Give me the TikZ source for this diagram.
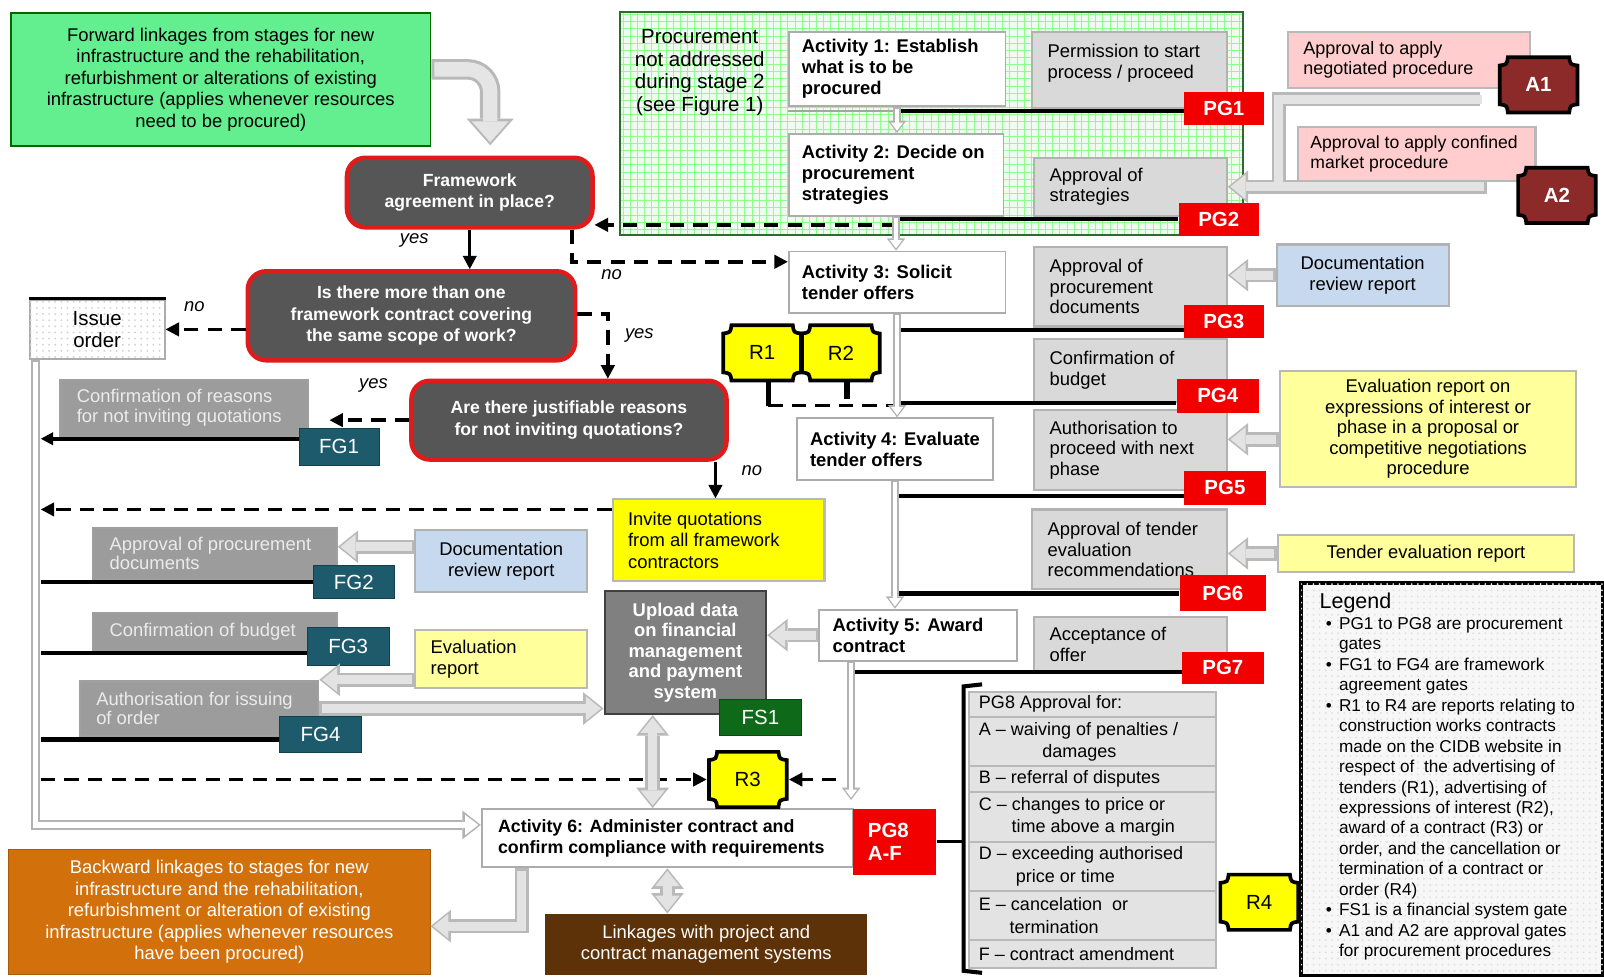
\documentclass[tikz,border=0pt]{standalone}
\usepackage{fontspec}
\setmainfont{Liberation Sans}
\usetikzlibrary{arrows.meta,patterns,calc}
\definecolor{fwgreen}{HTML}{63EF8F}
\definecolor{decgray}{HTML}{565656}
\definecolor{decred}{HTML}{E01B1B}
\definecolor{pgred}{HTML}{F20000}
\definecolor{fgteal}{HTML}{1D5B6C}
\definecolor{fsgreen}{HTML}{0E6A18}
\definecolor{ared}{HTML}{8C2A2A}
\definecolor{pinkbox}{HTML}{FFCDCD}
\definecolor{bluebox}{HTML}{C7D9EE}
\definecolor{lyellow}{HTML}{FFFF9C}
\definecolor{ybox}{HTML}{FFFF00}
\definecolor{orangebox}{HTML}{D2700B}
\definecolor{brownbox}{HTML}{5D3208}
\definecolor{gatebox}{HTML}{D9D9D9}
\definecolor{lgray}{HTML}{9C9C9C}
\definecolor{upgray}{HTML}{808080}
\definecolor{gridfill}{HTML}{EFFBEF}
\newcommand\bxh{7}
\newcommand\bxv{3}
\newcommand\mybox[8]{%
  \pgfmathsetmacro\bxw{(#5-#3)*0.5}%
  \pgfmathsetmacro\bxt{(#6-#4)*0.5}%
  \pgfmathsetmacro\bxiw{\bxw-2*\bxh}%
  \pgfmathsetmacro\bxit{\bxt-2*\bxv}%
  \node[inner sep=0pt, anchor=north west, minimum width=\bxw pt, minimum height=\bxt pt, #1] (#2) at (#3,#4)
    {\parbox[c][\bxit pt][#7]{\bxiw pt}{\raggedright #8}};}
\newcommand\lgi[1]{\par\hangindent=9.5pt\hangafter=1\noindent\hspace*{3pt}\makebox[6.5pt][l]{\textbullet}#1\par}
\newcommand\fatp[3]{\draw[#1] #3; \draw[#2] #3;}
% octagonal report/approval gate: name, x, y, fill, text style, text
\newcommand\octo[6]{%
  \draw[line width=1.8pt, fill=#4, shift={(#2,#3)}] (-30,-27) -- (30,-27) .. controls (31,-20) .. (38,-19) -- (38,19) .. controls (31,20) .. (30,27) -- (-30,27) .. controls (-31,20) .. (-38,19) -- (-38,-19) .. controls (-31,-20) .. (-30,-27) -- cycle;
  \node[inner sep=0pt, minimum width=38pt, minimum height=27pt, font=\fontsize{10}{12}\selectfont, #5] (#1) at (#2,#3) {#6};}
\begin{document}
\begin{tikzpicture}[x=0.5pt,y=-0.5pt,
  txt/.style={font=\fontsize{9}{10.5}\selectfont},
  act/.style={draw=gray!65, fill=white, line width=0.9pt, font=\fontsize{9}{10.2}\selectfont\bfseries},
  gate/.style={draw=gray!60, fill=gatebox, line width=1.1pt, font=\fontsize{9}{10.2}\selectfont},
  lgate/.style={draw=gray!75, fill=lgray, line width=1.1pt, text=white!92!black, font=\fontsize{9}{9.6}\selectfont},
  dec/.style={draw=decred, line width=2.2pt, fill=decgray, rounded corners=9pt, text=white, font=\fontsize{8.6}{10.5}\selectfont\bfseries},
  pg/.style={fill=pgred, text=white, font=\fontsize{10}{11}\selectfont\bfseries},
  fg/.style={fill=fgteal, draw=fgteal!70!black, text=white, font=\fontsize{10}{11}\selectfont},
  row/.style={draw=gray!55, fill=gray!22, line width=1pt, font=\fontsize{8.8}{11}\selectfont},
  lbl/.style={font=\fontsize{9}{10}\selectfont\itshape},
  fo/.style={line width=7pt, draw=gray!55, -{Triangle[length=10pt,width=16pt,line width=0pt]}},
  fi/.style={line width=4.4pt, draw=gray!22, -{Triangle[length=7.4pt,width=12pt,line width=0pt]}, shorten >=1.3pt, shorten <=1.3pt},
  fod/.style={line width=7pt, draw=gray!55, {Triangle[length=10pt,width=16pt,line width=0pt]}-{Triangle[length=10pt,width=16pt,line width=0pt]}},
  fid/.style={line width=4.4pt, draw=gray!22, {Triangle[length=7.4pt,width=12pt,line width=0pt]}-{Triangle[length=7.4pt,width=12pt,line width=0pt]}, shorten >=1.3pt, shorten <=1.3pt},
  fos/.style={line width=7pt, draw=gray!55},
  fis/.style={line width=4.4pt, draw=gray!22},
  ho/.style={line width=3.6pt, draw=gray!60, -{Triangle[length=6pt,width=9pt,line width=0pt]}},
  hi/.style={line width=2pt, draw=white, -{Triangle[length=4pt,width=6pt,line width=0pt]}, shorten >=1.1pt, shorten <=0.8pt},
  lo/.style={line width=4.5pt, draw=gray!60, -{Triangle[length=9pt,width=14pt,line width=0pt]}},
  li/.style={line width=2.6pt, draw=white, -{Triangle[length=6.5pt,width=10pt,line width=0pt]}, shorten >=1.2pt, shorten <=0.9pt},
  bo/.style={line width=10pt, draw=gray!55, rounded corners=11pt, -{Triangle[length=13pt,width=23pt,line width=0pt]}},
  bi/.style={line width=7pt, draw=gray!20, rounded corners=11pt, -{Triangle[length=10.2pt,width=18pt,line width=0pt]}, shorten >=1.5pt, shorten <=1.5pt},
  dl/.style={line width=1.8pt, dash pattern=on 7pt off 4.5pt, -{Triangle[length=6.5pt,width=7pt,line width=0pt]}},
  sl/.style={line width=1.6pt, -{Triangle[length=6.5pt,width=7pt,line width=0pt]}},
  gline/.style={line width=2pt}
]
\useasboundingbox (0,0) rectangle (1568,955);
\fill[white] (0,0) rectangle (1568,955);

% grid region
\fill[gridfill] (606,12) rectangle (1215,230);
\draw[green!45, line width=0.3pt, step=3.5pt] (606,12) grid (1215,230);
\draw[gray!60!green!60!black, line width=0.8pt] (606,12) rectangle (1215,230);
\node[font=\fontsize{10}{11}\selectfont, align=center] (proc) at (684,71) {Procurement\\not addressed\\during stage 2\\(see Figure 1)};

% top-left green
\renewcommand\bxh{5}
\mybox{draw=green!40!black, fill=fwgreen, line width=0.8pt, txt}{green}{10}{12}{420}{142}{c}{\centering Forward linkages from stages for new\\infrastructure and the rehabilitation,\\refurbishment or alterations of existing\\infrastructure (applies whenever resources\\need to be procured)}

% activities
\renewcommand\bxh{6.5}
\mybox{act}{ac1}{770}{30}{982}{103}{c}{Activity 1: Establish\\what is to be\\procured}
\mybox{act}{ac2}{770}{130}{980}{210}{c}{Activity 2: Decide on\\procurement\\strategies}
\mybox{act}{ac3}{770}{245}{982}{305}{c}{Activity 3: Solicit\\tender offers}
\mybox{act}{ac4}{778}{408}{970}{468}{c}{Activity 4: Evaluate\\tender offers}
\mybox{act}{ac5}{800}{595}{993}{645}{c}{Activity 5: Award\\contract}
\renewcommand\bxh{8}
\mybox{act,font=\fontsize{8.7}{10}\selectfont\bfseries}{ac6}{470}{790}{833}{847}{c}{Activity 6: Administer contract and\\confirm compliance with requirements}

% right gates text boxes
\renewcommand\bxh{7.5}
\renewcommand\bxv{6}
\mybox{gate}{g1}{1008}{30}{1198}{105}{t}{Permission to start\\process / proceed}
\renewcommand\bxv{3}
\mybox{gate}{g2}{1010}{153}{1198}{210}{c}{Approval of\\strategies}
\mybox{gate}{g3}{1010}{240}{1198}{318}{c}{Approval of\\procurement\\documents}
\mybox{gate}{g4}{1010}{330}{1198}{392}{c}{Confirmation of\\budget}
\mybox{gate}{g5}{1010}{400}{1198}{478}{c}{Authorisation to\\proceed with next\\phase}
\mybox{gate}{g6}{1008}{497}{1198}{575}{c}{Approval of tender\\evaluation\\recommendations}
\mybox{gate}{g7}{1010}{602}{1198}{655}{c}{Acceptance of\\offer}

% pink approvals
\mybox{draw=gray!55, fill=pinkbox, line width=1pt, font=\fontsize{8.8}{10}\selectfont}{pink1}{1258}{30}{1495}{85}{c}{Approval to apply\\negotiated procedure}
\renewcommand\bxh{6}
\mybox{draw=gray!55, fill=pinkbox, line width=1pt, font=\fontsize{8.6}{10}\selectfont}{pink2}{1268}{123}{1500}{176}{c}{Approval to apply confined\\market procedure}
\renewcommand\bxh{7.5}

% report boxes
\mybox{draw=gray!60, fill=bluebox, line width=1pt, txt}{docR}{1247}{238}{1415}{298}{c}{\centering Documentation\\review report}
\mybox{draw=gray!60, fill=bluebox, line width=1pt, txt}{docL}{405}{517}{573}{578}{c}{\centering Documentation\\review report}
\mybox{draw=gray!55, fill=lyellow, line width=1pt, font=\fontsize{9}{10}\selectfont}{evalR}{1250}{362}{1540}{475}{c}{\centering Evaluation report on\\expressions of interest or\\phase in a proposal or\\competitive negotiations\\procedure}
\mybox{draw=gray!55, fill=lyellow, line width=1pt, txt}{tevalR}{1248}{522}{1538}{558}{c}{\centering Tender evaluation report}
\mybox{draw=gray!55, fill=lyellow, line width=1pt, txt}{evalL}{405}{615}{573}{672}{c}{Evaluation\\report}
\mybox{draw=gray!55, fill=ybox, line width=1pt, txt}{inv}{598}{487}{805}{567}{c}{Invite quotations\\from all framework\\contractors}

% left framework gate boxes
\renewcommand\bxh{8}
\mybox{lgate}{conf}{58}{370}{300}{425}{c}{Confirmation of reasons\\for not inviting quotations}
\mybox{lgate}{apL}{90}{515}{328}{565}{c}{Approval of procurement\\documents}
\mybox{lgate}{cbL}{90}{598}{328}{635}{c}{Confirmation of budget}
\mybox{lgate}{auL}{77}{665}{310}{718}{c}{Authorisation for issuing\\of order}

% decisions
\renewcommand\bxh{4}
\mybox{dec}{fw}{337}{152}{577}{220}{c}{\centering Framework\\agreement in place?}
\mybox{dec}{d2}{240}{263}{560}{350}{c}{\centering Is there more than one\\framework contract covering\\the same scope of work?}
\mybox{dec}{d3}{400}{370}{708}{447}{c}{\centering Are there justifiable reasons\\for not inviting quotations?}
\mybox{draw=gray!65, fill=white, postaction={pattern=dots, pattern color=gray!35}, line width=1pt, font=\fontsize{10}{10.5}\selectfont}{issue}{28}{292}{160}{350}{c}{\centering Issue\\order}
\draw[line width=1.2pt] (issue.north west) -- (issue.north east);

% upload, backward, linkages
\mybox{draw=gray!50!black, fill=upgray, text=white, line width=1pt, font=\fontsize{9}{10}\selectfont\bfseries}{up}{590}{577}{748}{697}{c}{\centering Upload data\\on financial\\management\\and payment\\system}
\mybox{draw=orangebox!80!black, fill=orangebox, text=white, txt}{back}{8}{830}{420}{952}{c}{\centering Backward linkages to stages for new\\infrastructure and the rehabilitation,\\refurbishment or alteration of existing\\infrastructure (applies whenever resources\\have been procured)}
\mybox{draw=brownbox, fill=brownbox, text=white, txt}{link}{533}{893}{847}{952}{c}{\centering Linkages with project and\\contract management systems}

% gates
\renewcommand\bxh{1}
\renewcommand\bxv{1}
\mybox{pg}{pg1}{1157}{90}{1235}{122}{c}{\centering PG1}
\mybox{pg}{pg2}{1152}{198}{1230}{230}{c}{\centering PG2}
\mybox{pg}{pg3}{1157}{298}{1235}{330}{c}{\centering PG3}
\mybox{pg}{pg4}{1150}{370}{1230}{403}{c}{\centering PG4}
\mybox{pg}{pg5}{1157}{460}{1237}{493}{c}{\centering PG5}
\mybox{pg}{pg6}{1153}{562}{1237}{597}{c}{\centering PG6}
\mybox{pg}{pg7}{1155}{637}{1235}{668}{c}{\centering PG7}
\mybox{fg}{fg1}{292}{418}{370}{455}{c}{\centering FG1}
\mybox{fg}{fg2}{306}{552}{385}{585}{c}{\centering FG2}
\mybox{fg}{fg3}{300}{613}{380}{650}{c}{\centering FG3}
\mybox{fg}{fg4}{273}{700}{353}{735}{c}{\centering FG4}
\mybox{fill=fsgreen, draw=fsgreen!70!black, text=white, font=\fontsize{10}{11}\selectfont}{fs1}{703}{683}{783}{718}{c}{\centering FS1}
\renewcommand\bxh{7.5}
\mybox{pg}{pg8}{833}{790}{915}{855}{c}{PG8\\A-F}

% PG8 approval table
\renewcommand\bxh{5}
\mybox{row}{t0}{946}{675}{1188}{700}{c}{PG8 Approval for:}
\mybox{row}{t1}{946}{700}{1188}{748}{c}{A – waiving of penalties /\\\hspace*{31pt}damages}
\mybox{row}{t2}{946}{748}{1188}{773}{c}{B – referral of disputes}
\mybox{row}{t3}{946}{773}{1188}{822}{c}{C – changes to price or\\\hspace*{16pt}time above a margin}
\mybox{row}{t4}{946}{822}{1188}{870}{c}{D – exceeding authorised\\\hspace*{18pt}price or time}
\mybox{row}{t5}{946}{870}{1188}{918}{c}{E – cancelation\ \ or\\\hspace*{15pt}termination}
\mybox{row}{t6}{946}{918}{1188}{945}{c}{F – contract amendment}

% legend
\renewcommand\bxh{9}
\renewcommand\bxv{5}
\mybox{draw=black, line width=2pt, fill=gray!6, postaction={pattern=dots, pattern color=gray!25}, font=\fontsize{8.4}{10}\selectfont}{leg}{1270}{568}{1565}{952}{t}{{\fontsize{10.5}{12.5}\selectfont Legend\par}%
\lgi{PG1 to PG8 are procurement\newline gates}%
\lgi{FG1 to FG4 are framework\newline agreement gates}%
\lgi{R1 to R4 are reports relating to\newline construction works contracts\newline made on the CIDB website in\newline respect of\ \ the advertising of\newline tenders (R1), advertising of\newline expressions of interest (R2),\newline award of a contract (R3) or\newline order, and the cancellation or\newline termination of a contract or\newline order (R4)}%
\lgi{FS1 is a financial system gate}%
\lgi{A1 and A2 are approval gates\newline for procurement procedures}}

% octagon report / approval gates
\octo{ag1}{1504}{83}{ared}{text=white, font=\fontsize{10}{12}\selectfont\bfseries}{A1}
\octo{ag2}{1522}{191}{ared}{text=white, font=\fontsize{10}{12}\selectfont\bfseries}{A2}
\octo{r1}{745}{345}{ybox}{}{R1}
\octo{r2}{822}{345}{ybox}{}{R2}
\octo{r3}{731}{762}{ybox}{}{R3}
\octo{r4}{1231}{882}{ybox}{}{R4}

\coordinate (lvx) at (40,500);

% dashed and solid decision connectors
\draw[sl] (fw.south) -- (fw.south |- d2.north);
\node[lbl] (l1) at (405,235) {yes};
\draw[dl] ($(fw.south east)+(-22,0)$) |- ($(ac3.west)+(0,-20)$);
\node[lbl] (l2) at (598,268) {no};
\draw[dl] (d2.west |- issue.east) -- (issue.east);
\node[lbl] (l3) at (190,300) {no};
\draw[dl] ($(d2.east)+(0,-2)$) -| ($(d3.north)+(38,0)$);
\node[lbl] (l4) at (625,328) {yes};
\draw[dl, shorten >=10pt] (d3.west) -- (d3.west -| conf.east);
\node[lbl] (l5) at (365,377) {yes};
\draw[sl] ($(d3.south east)+(-13,0)$) -- ($(d3.south east |- inv.north)+(-13,0)$);
\node[lbl] (l6) at (735,460) {no};
\draw[dl] ($(inv.west)+(0,-30)$) -- ($(inv.west -| lvx)+(0,-30)$);
\draw[dl] ($(ac2.south)+(0,8)$) -- ($(ac2.south -| fw.east)+(0,8)$);
\draw[line width=2.5pt] ($(r1.south)+(6,0)$) -- ++(0,24) coordinate (r1b);
\draw[dl, -] (r1b) -- (r1b -| ac3.south);
\draw[line width=2.5pt] ($(r2.south)+(6,0)$) -- ++(0,18);
\draw[dl] (r3.west -| lvx) -- ($(r3.west)+(-2,0)$);
\draw[dl] ($(r3.east)+(48,0)$) -- ($(r3.east)+(2,0)$);

% gate lines
\draw[line width=1pt, gray!70] ($(ac1.south west)+(0,4)$) -- ($(ac1.south)+(0,4)$);
\draw[gline] ($(ac1.south)+(0,4)$) -- ($(ac1.south -| pg1.west)+(0,4)$);
\draw[gline] ($(ac2.south)+(0,2)$) -- ($(ac2.south -| pg2.west)+(0,2)$);
\draw[gline] ($(ac3.south |- g3.south)+(0,2)$) -- ($(g3.south -| pg3.west)+(0,2)$);
\draw[gline] (ac3.south |- g4.south) -- (g4.south -| pg4.west);
\draw[gline] ($(ac4.south |- g5.south)+(0,5)$) -- ($(g5.south -| pg5.west)+(0,5)$);
\draw[gline] ($(ac4.south |- g6.south)+(0,3)$) -- ($(g6.south -| pg6.west)+(0,3)$);
\draw[gline] ($(ac5.south west |- g7.south)+(32,0)$) -- (g7.south -| pg7.west);
\draw[gline, -{Triangle[length=6pt,width=6.5pt,line width=0pt]}] ($(fg1.west)+(0,-8)$) -- ($(fg1.west -| lvx)+(0,-8)$);
\draw[gline] (fg2.west) -- (fg2.west -| lvx);
\draw[gline] ($(fg3.west)+(0,6)$) -- ($(fg3.west -| lvx)+(0,6)$);
\draw[gline] ($(fg4.west)+(0,5)$) -- ($(fg4.west -| lvx)+(0,5)$);

% PG8 bracket
\draw[line width=1.6pt] (pg8.east) -- ++(27,0);
\draw[line width=2pt] ($(t0.north west)+(14,-6)$) -- ($(t0.north west)+(-4,-4)$) -- ($(t6.south west)+(-4,2)$) -- ($(t6.south west)+(14,4)$);

% big curved arrow
\fatp{bo}{bi}{([yshift=5pt]green.east) -| ($(fw.north)+(20,-10)$)}

% A1 / A2 arrow
\coordinate (abend) at ($(pink1.south west)+(-8,0)$);
\draw[fos] ($(pink1.south east)+(-50,10)$) -| (abend |- g2.east);
\draw[fo] ($(g2.east -| ag2.west)+(-30,0)$) -- (g2.east);
\draw[fis] ($(pink1.south east)+(-48,10)$) -| (abend |- g2.east);
\draw[fi] ($(g2.east -| ag2.west)+(-30,0)$) -- (g2.east);

% fat report arrows
\fatp{fo}{fi}{(docR.west) -- (docR.west -| g3.east)}
\fatp{fo}{fi}{($(evalR.west)+(0,10)$) -- ($(evalR.west -| g5.east)+(0,10)$)}
\fatp{fo}{fi}{(tevalR.west) -- (tevalR.west -| g6.east)}
\fatp{fo}{fi}{(ac5.west) -- (ac5.west -| up.east)}
\fatp{fo}{fi}{($(docL.west)+(0,-14)$) -- ($(docL.west -| apL.east)+(0,-14)$)}
\fatp{fo}{fi}{($(evalL.west)+(0,20)$) -- ($(evalL.west -| auL.east)+(0,20)$)}
\fatp{fo}{fi}{(auL.east) -- (auL.east -| up.west)}
\fatp{fod}{fid}{($(up.south)+(-32,0)$) -- ($(up.south |- ac6.north)+(-32,0)$)}
\fatp{fod}{fid}{(ac6.south) -- (ac6.south |- link.north)}
\fatp{fo}{fi}{($(ac6.south west)+(40,0)$) |- ($(back.east)+(0,14)$)}

% hollow flow arrows
\fatp{ho}{hi}{(ac1.south) -- (ac1.south |- ac2.north)}
\fatp{ho}{hi}{(ac2.south) -- (ac2.south |- ac3.north)}
\fatp{ho}{hi}{(ac3.south) -- (ac3.south |- ac4.north)}
\fatp{ho}{hi}{(ac4.south) -- (ac4.south |- ac5.north)}
\fatp{ho}{hi}{($(ac5.south west)+(32,0)$) -- ($(ac5.south west |- ac6.north)+(32,-8)$)}
\fatp{lo}{li}{($(issue.south west)+(7,0)$) |- ($(ac6.west)+(0,-13)$)}
\end{tikzpicture}
\end{document}
